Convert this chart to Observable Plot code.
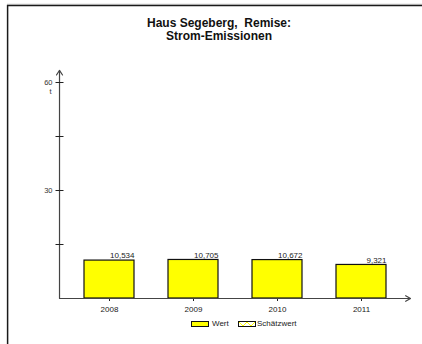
<!DOCTYPE html>
<html>
<head>
<meta charset="utf-8">
<script src="https://cdn.jsdelivr.net/npm/d3@7"></script>
<script src="https://cdn.jsdelivr.net/npm/@observablehq/plot@0.6"></script>
<style>
  html, body { margin: 0; padding: 0; background: #fff; overflow: hidden; }
  #wrap { position: relative; width: 422px; height: 344px; overflow: hidden; font-family: "Liberation Sans", Arial, sans-serif; background: #fff; }
  #border { position: absolute; left: 0; top: 0; display: block; }
  #title { position: absolute; left: 0; width: 438px; top: 17px; text-align: center; font-weight: bold; font-size: 12px; line-height: 13px; color: #111; }
  #chart { position: absolute; left: 0; top: 0; width: 422px; height: 344px; }
  #chart svg { display: block; }
  #legend { position: absolute; top: 319px; left: 0; width: 422px; height: 10px; font-size: 8px; color: #222; }
  .sw { position: absolute; top: 1.5px; height: 4px; border: 1px solid #111; }
  .lt { position: absolute; top: -0.5px; line-height: 9px; }
</style>
</head>
<body>
<div id="wrap">
  <svg id="border" width="422" height="344">
    <path d="M7,4.2H422" fill="none" stroke="#cfcfcf" stroke-width="1"/>
    <path d="M7.6,344V5.6H422" fill="none" stroke="#1a1a1a" stroke-width="1.5"/>
  </svg>
  <div id="title">Haus Segeberg,&nbsp; Remise:<br>Strom-Emissionen</div>
  <div id="chart"></div>
  <div id="legend">
    <div class="sw" style="left:191px;width:16px;background:#ffff00"></div>
    <div class="lt" style="left:212px">Wert</div>
    <div class="sw" style="left:238px;width:16px;background:#fff;overflow:hidden">
      <svg width="16" height="4" style="display:block"><polyline points="0,0 4,4 8,0 12,4 16,0" fill="none" stroke="#ffff00" stroke-width="1"/></svg>
    </div>
    <div class="lt" style="left:257px">Schätzwert</div>
  </div>
</div>
<script>
const years = ["2008", "2009", "2010", "2011"];
const values = [10.534, 10.705, 10.672, 9.321];
const yTicks = [15, 30, 45, 60];
const yTickLabels = ["", "30", "", "60"];
const unit = "t";

const data = years.map((y, i) => ({year: y, value: values[i], label: values[i].toFixed(3).replace(".", ",")}));
const tickData = yTicks.map((v, i) => ({v, label: yTickLabels[i]}));

const xRange = [65.6, 404.4];
const padInner = 0.41, padOuter = 0.205;
const step = (xRange[1] - xRange[0]) / (years.length - padInner + 2 * padOuter);
const halfBand = step * (1 - padInner) / 2; // Plot shifts marks on a band x scale by half a band
const lit = v => ({value: () => v - halfBand, scale: null});

const chart = Plot.plot({
  width: 422,
  height: 344,
  marginLeft: 59,
  marginRight: 12,
  marginTop: 70,
  marginBottom: 46,
  style: {background: "transparent", fontFamily: "Liberation Sans, Arial, sans-serif"},
  x: {domain: years, range: xRange, paddingInner: padInner, paddingOuter: padOuter, axis: null},
  y: {domain: [0, 60], range: [298, 82], axis: null},
  marks: [
    Plot.barY(data, {x: "year", y: "value", fill: "#ffff00", stroke: "#111", strokeWidth: 1.2}),
    Plot.text(data, {x: "year", y: "value", text: "label", textAnchor: "end", dx: halfBand, dy: -5, fontSize: 8, fill: "#222"}),
    Plot.axisX({anchor: "bottom", tickSize: 3, tickPadding: 5, fontSize: 8, color: "#222", label: null, strokeWidth: 1}),
    Plot.arrow([0], {x1: lit(59), x2: lit(59), y1: () => 0, y2: () => 63.4, stroke: "#444", strokeWidth: 1.2, headLength: 7, headAngle: 65}),
    Plot.arrow([0], {x1: lit(59), x2: lit(410), y1: () => 0, y2: () => 0, stroke: "#444", strokeWidth: 1.2, headLength: 7, headAngle: 60}),
    Plot.link(tickData, {x1: lit(55), x2: lit(63), y1: "v", y2: "v", stroke: "#222", strokeWidth: 1}),
    Plot.text(tickData, {x: lit(52), y: "v", text: "label", textAnchor: "end", fontSize: 7.5, fill: "#333"}),
    Plot.text([60], {x: lit(51), y: d => d, text: () => unit, textAnchor: "end", dy: 9, fontSize: 7.5, fill: "#333"})
  ]
});
document.getElementById("chart").appendChild(chart);
</script>
</body>
</html>
